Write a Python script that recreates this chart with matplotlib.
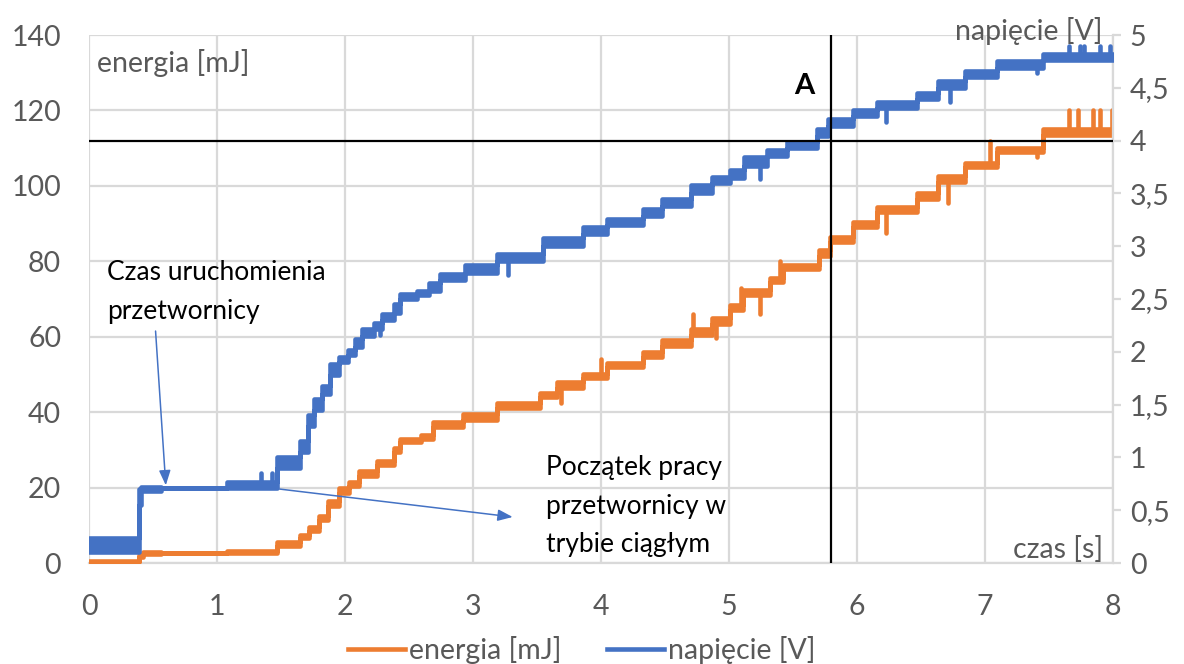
import numpy as np
import matplotlib
matplotlib.use("Agg")
import matplotlib.pyplot as plt
from matplotlib.lines import Line2D

plt.rcParams['font.family'] = ['Lato', 'DejaVu Sans']

# --- data -------------------------------------------------------------
# voltage staircase: step start time [s], lower / upper level of the flicker band [V]
v_t = [0.00, 0.39, 0.41, 0.56, 1.08, 1.47, 1.65, 1.71, 1.76, 1.82, 1.88, 1.95,
       2.02, 2.08, 2.13, 2.23, 2.29, 2.38, 2.43, 2.56, 2.66, 2.74, 2.94, 3.19,
       3.55, 3.86, 4.05, 4.33, 4.48, 4.70, 4.87, 5.01, 5.12, 5.30, 5.45, 5.69,
       5.77, 5.97, 6.16, 6.47, 6.63, 6.84, 7.09, 7.45, 8.00]
v_lo = [0.10, 0.55, 0.68, 0.714, 0.714, 0.90, 1.05, 1.30, 1.45, 1.60, 1.78, 1.90,
        1.97, 2.05, 2.15, 2.22, 2.30, 2.37, 2.50, 2.54, 2.58, 2.68, 2.75, 2.86,
        3.00, 3.12, 3.20, 3.29, 3.38, 3.50, 3.60, 3.65, 3.76, 3.85, 3.93, 4.04,
        4.14, 4.23, 4.31, 4.39, 4.50, 4.60, 4.69, 4.76, 4.76]
v_hi = [0.24, 0.70, 0.72, 0.714, 0.77, 1.00, 1.16, 1.40, 1.55, 1.68, 1.88, 1.95,
        2.02, 2.12, 2.22, 2.27, 2.36, 2.45, 2.55, 2.58, 2.65, 2.74, 2.82, 2.93,
        3.08, 3.18, 3.26, 3.35, 3.45, 3.58, 3.66, 3.72, 3.84, 3.91, 3.99, 4.11,
        4.20, 4.29, 4.37, 4.45, 4.56, 4.66, 4.75, 4.82, 4.82]
# isolated voltage spikes / dips: time [s], value [V]
v_spike_t = [1.34, 1.43, 2.27, 3.27, 5.24, 6.23, 6.73, 7.41, 7.66, 7.74, 7.77, 7.90, 7.98]
v_spike_v = [0.85, 0.85, 2.16, 2.73, 3.64, 4.18, 4.37, 4.64, 4.90, 4.90, 4.90, 4.90, 4.90]

# energy staircase: step start time [s], lower / upper level of the flicker band [mJ]
e_t = [0.00, 0.39, 0.42, 0.56, 1.08, 1.47, 1.65, 1.72, 1.80, 1.87, 1.95, 2.03,
       2.11, 2.25, 2.38, 2.43, 2.59, 2.69, 2.92, 3.19, 3.52, 3.66, 3.86, 4.05,
       4.33, 4.48, 4.70, 4.87, 5.01, 5.11, 5.32, 5.42, 5.70, 5.79, 5.97, 6.16,
       6.47, 6.63, 6.84, 7.09, 7.45, 8.00]
e_lo = [0.2, 1.5, 2.3, 2.6, 2.6, 4.5, 6.5, 8.5, 11.5, 15.0, 18.5, 20.5,
        23.0, 26.0, 29.5, 32.0, 33.0, 36.0, 38.0, 41.0, 44.0, 46.5, 49.0, 52.0,
        54.5, 57.5, 60.5, 63.5, 67.0, 71.0, 74.5, 78.0, 81.5, 85.0, 89.0, 93.0,
        96.5, 101.0, 105.0, 109.0, 113.5, 113.5]
e_hi = [0.6, 2.0, 2.9, 2.6, 3.2, 5.5, 7.5, 9.5, 12.5, 16.5, 20.0, 21.5,
        24.5, 27.0, 30.5, 33.0, 34.0, 37.5, 39.5, 42.5, 45.0, 48.0, 50.0, 53.0,
        56.0, 59.0, 62.0, 65.0, 68.5, 72.5, 75.5, 79.0, 83.0, 86.5, 90.5, 94.5,
        98.0, 102.5, 106.0, 110.0, 115.0, 115.0]
# isolated energy spikes / dips: time [s], value [mJ]
e_spike_t = [3.69, 4.00, 4.72, 4.90, 5.09, 5.24, 5.40, 6.23, 6.71, 7.04, 7.41,
             7.66, 7.73, 7.84, 7.90, 7.99]
e_spike_v = [42.4, 54.0, 66.0, 59.7, 73.0, 66.0, 80.0, 87.5, 95.5, 112.0, 107.7,
             120.0, 120.0, 120.0, 120.0, 120.0]

x_ticks = [0, 1, 2, 3, 4, 5, 6, 7, 8]
e_ticks = [0, 20, 40, 60, 80, 100, 120, 140]
v_ticks = [0, 0.5, 1, 1.5, 2, 2.5, 3, 3.5, 4, 4.5, 5]
v_tick_labels = ['0', '0,5', '1', '1,5', '2', '2,5', '3', '3,5', '4', '4,5', '5']

point_a_t = 5.8      # [s]
point_a_e = 112      # [mJ], equal to 4 V on the right axis

ORANGE = '#ED7D31'
BLUE = '#4472C4'
GREY = '#595959'
GRID = '#D9D9D9'
FS = 20.5     # axis text size
FS_NOTE = 19  # annotation text size
LW = 3.3      # trace line width

# --- figure -----------------------------------------------------------
fig = plt.figure(figsize=(11.84, 6.64), dpi=100)
ax = fig.add_axes([89 / 1184, 1 - 563 / 664, (1113 - 89) / 1184, (563 - 35) / 664])
ax2 = ax.twinx()

ax.set_xlim(0, 8)
ax.set_ylim(0, 140)
ax2.set_ylim(0, 5)

ax.set_xticks(x_ticks)
ax.set_yticks(e_ticks)
ax2.set_yticks(v_ticks)
ax2.set_yticklabels(v_tick_labels)

ax.grid(True, color=GRID, lw=1.6)
ax.set_axisbelow(True)
for s in ['top', 'left']:
    ax.spines[s].set_visible(False)
    ax2.spines[s].set_visible(False)
ax.spines['bottom'].set_color(GRID)
ax.spines['bottom'].set_linewidth(1.6)
ax2.spines['right'].set_color(GRID)
ax2.spines['right'].set_linewidth(1.6)
ax2.spines['bottom'].set_visible(False)
ax.spines['right'].set_visible(False)

ax.tick_params(axis='y', length=0, labelsize=FS, labelcolor=GREY, pad=20)
ax.tick_params(axis='x', length=0, labelsize=FS, labelcolor=GREY, pad=22)
ax2.tick_params(axis='y', length=6, width=1.6, color=GRID, labelsize=FS,
                labelcolor=GREY, pad=6)


def stair_band(axis, t, lo, hi, sp_t, sp_v, color):
    t = np.asarray(t)
    lo = np.asarray(lo)
    hi = np.asarray(hi)
    axis.fill_between(t, lo, hi, step='post', facecolor=color, edgecolor=color,
                      lw=LW, joinstyle='round', zorder=3)
    idx = np.searchsorted(t, sp_t, side='right') - 1
    for ts, vs, i in zip(sp_t, sp_v, idx):
        base = hi[i] if vs > hi[i] else lo[i]
        axis.plot([ts, ts], [base, vs], color=color, lw=LW,
                  solid_capstyle='round', zorder=3)


stair_band(ax, e_t, e_lo, e_hi, e_spike_t, e_spike_v, ORANGE)
stair_band(ax2, v_t, v_lo, v_hi, v_spike_t, v_spike_v, BLUE)

# point A guide lines
ax2.axhline(point_a_e / 140 * 5, color='black', lw=1.6, zorder=5)
ax2.axvline(point_a_t, color='black', lw=1.6, zorder=5)
ax2.text(5.67, 126.5 / 140 * 5, 'A', fontsize=21, fontweight='bold',
         ha='right', va='center', color='black', zorder=6)

# axis titles drawn inside the plot area
ax2.text(0.06, 132.5 / 140 * 5, 'energia [mJ]', fontsize=FS, color=GREY,
         ha='left', va='center', zorder=6)
ax2.text(7.92, 141 / 140 * 5, 'napięcie [V]', fontsize=FS, color=GREY,
         ha='right', va='center', zorder=6)
ax2.text(7.92, 3.5 / 140 * 5, 'czas [s]', fontsize=FS, color=GREY,
         ha='right', va='center', zorder=6)


def etov(e):
    return e / 140 * 5


# annotations
ax2.text(0.14, etov(76.9), 'Czas uruchomienia', fontsize=FS_NOTE, color='black',
         ha='left', va='center', zorder=6)
ax2.text(0.14, etov(66.8), 'przetwornicy', fontsize=FS_NOTE, color='black',
         ha='left', va='center', zorder=6)
ax2.annotate('', xy=(0.60, etov(20.6)), xytext=(0.52, etov(61.5)),
             arrowprops=dict(arrowstyle='-|>,head_length=0.9,head_width=0.35',
                             color=BLUE, lw=1.1, shrinkA=0, shrinkB=0), zorder=6)

ax2.text(3.57, etov(25.2), 'Początek pracy', fontsize=FS_NOTE, color='black',
         ha='left', va='center', zorder=6)
ax2.text(3.57, etov(15.1), 'przetwornicy w', fontsize=FS_NOTE, color='black',
         ha='left', va='center', zorder=6)
ax2.text(3.57, etov(4.8), 'trybie ciągłym', fontsize=FS_NOTE, color='black',
         ha='left', va='center', zorder=6)
ax2.annotate('', xy=(3.31, etov(12.2)), xytext=(1.49, etov(19.6)),
             arrowprops=dict(arrowstyle='-|>,head_length=0.9,head_width=0.35',
                             color=BLUE, lw=1.1, shrinkA=0, shrinkB=0), zorder=6)

# legend
handles = [Line2D([0], [0], color=ORANGE, lw=LW),
           Line2D([0], [0], color=BLUE, lw=LW)]
fig.legend(handles, ['energia [mJ]', 'napięcie [V]'], loc='center',
           bbox_to_anchor=(582 / 1184, 1 - 650 / 664), ncol=2, frameon=False,
           fontsize=FS, labelcolor=GREY, handlelength=2.0, handletextpad=0.15,
           columnspacing=1.6)

fig.savefig('out.png', dpi=100)
